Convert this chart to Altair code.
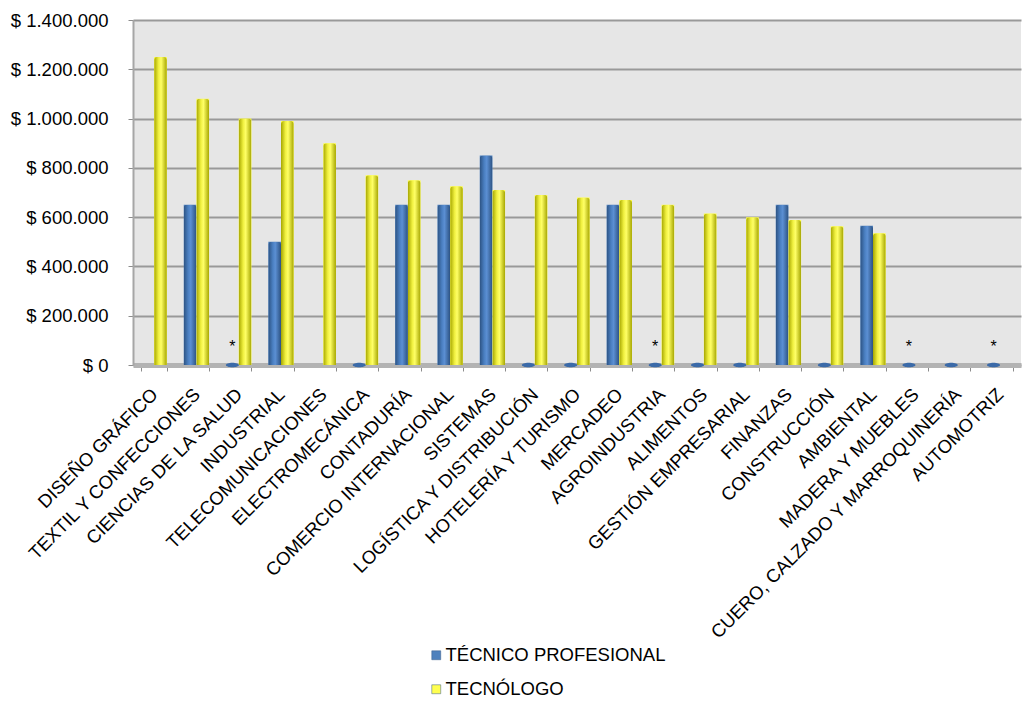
import altair as alt
import pandas as pd

# Carreras (categorías del eje X)
categorias = [
    "DISEÑO GRÁFICO", "TEXTIL Y CONFECCIONES", "CIENCIAS DE LA SALUD", "INDUSTRIAL",
    "TELECOMUNICACIONES", "ELECTROMECÁNICA", "CONTADURÍA", "COMERCIO INTERNACIONAL",
    "SISTEMAS", "LOGÍSTICA Y DISTRIBUCIÓN", "HOTELERÍA Y TURISMO", "MERCADEO",
    "AGROINDUSTRIA", "ALIMENTOS", "GESTIÓN EMPRESARIAL", "FINANZAS", "CONSTRUCCIÓN",
    "AMBIENTAL", "MADERA Y MUEBLES", "CUERO, CALZADO Y MARROQUINERÍA", "AUTOMOTRIZ",
]

# Salario promedio por nivel de formación (None = sin dato)
tecnico_profesional = [
    None, 650000, 0, 500000, None, 0, 650000, 650000, 850000, 0, 0,
    650000, 0, 0, 0, 650000, 0, 565000, 0, 0, 0,
]
tecnologo = [
    1250000, 1080000, 1000000, 990000, 900000, 770000, 750000, 725000, 710000,
    690000, 680000, 670000, 650000, 615000, 600000, 588000, 563000, 535000,
    None, None, None,
]

# Carreras marcadas con asterisco
con_nota = ["CIENCIAS DE LA SALUD", "AGROINDUSTRIA", "MADERA Y MUEBLES", "AUTOMOTRIZ"]

# Marcas del eje Y
ticks_y = [0, 200000, 400000, 600000, 800000, 1000000, 1200000, 1400000]

series = ["TÉCNICO PROFESIONAL", "TECNÓLOGO"]
colores = ["#4f81bd", "#ffff4f"]

filas = []
for i, cat in enumerate(categorias):
    for serie, valores in zip(series, [tecnico_profesional, tecnologo]):
        v = valores[i]
        if v is None:
            continue
        filas.append({"categoria": cat, "serie": serie, "valor": v,
                      "nota": "*" if (cat in con_nota and serie == series[0]) else ""})
df = pd.DataFrame(filas)

FUENTE = "Liberation Sans"

x_enc = alt.X(
    "categoria:N", sort=categorias, title=None,
    scale=alt.Scale(paddingInner=0.4, paddingOuter=0.2),
    axis=alt.Axis(labelAngle=-45, labelAlign="right", labelBaseline="middle",
                  labelFontSize=18.5, labelFont=FUENTE, labelColor="#000000",
                  labelPadding=20, labelLimit=0, tickBand="extent", tickSize=6,
                  tickColor="#8c8c8c", domainColor="#b3b3b3", domainWidth=5,
                  grid=False, labelOverlap=False),
)
xoff = alt.XOffset("serie:N", sort=series, scale=alt.Scale(domain=series))
y_enc = alt.Y(
    "valor:Q", title=None,
    scale=alt.Scale(domain=[0, 1400000], nice=False),
    axis=alt.Axis(values=ticks_y,
                  labelExpr="'$ ' + replace(format(datum.value, ',.0f'), regexp(',', 'g'), '.')",
                  labelFontSize=18.5, labelFont=FUENTE, labelColor="#000000",
                  labelPadding=20, tickSize=5, tickColor="#8c8c8c",
                  domainColor="#a6a6a6", domainWidth=2,
                  gridColor="#999999", gridWidth=2),
)

base = alt.Chart(df)

barras = base.transform_filter("datum.valor > 0").mark_bar().encode(
    x=x_enc, xOffset=xoff, y=y_enc,
    color=alt.Color("serie:N", sort=series,
                    scale=alt.Scale(domain=series, range=colores),
                    legend=alt.Legend(
                        title=None, orient="none", legendX=294, legendY=626,
                        direction="vertical", symbolType="square", symbolSize=80,
                        labelFontSize=18.5, labelFont=FUENTE, labelColor="#000000",
                        labelLimit=0, rowPadding=15, labelOffset=0,
                        symbolStrokeColor="#385d8a", symbolStrokeWidth=0.5)),
)


def degradado(c_borde, c_medio, c_luz):
    return alt.LinearGradient(
        gradient="linear", x1=0, x2=1, y1=0, y2=0,
        stops=[alt.GradientStop(offset=0, color=c_borde),
               alt.GradientStop(offset=0.35, color=c_medio),
               alt.GradientStop(offset=0.55, color=c_luz),
               alt.GradientStop(offset=1, color=c_borde)],
    )


cil_azul = base.transform_filter(
    f"datum.valor > 0 && datum.serie == '{series[0]}'"
).mark_bar(color=degradado("#2c5282", "#4a7fc1", "#5b8fd3"),
           cornerRadiusTopLeft=3, cornerRadiusTopRight=3).encode(
    x=alt.X("categoria:N", sort=categorias), xOffset=xoff, y="valor:Q")

cil_amarillo = base.transform_filter(
    f"datum.valor > 0 && datum.serie == '{series[1]}'"
).mark_bar(color=degradado("#a6a600", "#f0f040", "#ffff66"),
           cornerRadiusTopLeft=3, cornerRadiusTopRight=3).encode(
    x=alt.X("categoria:N", sort=categorias), xOffset=xoff, y="valor:Q")

# Valores en cero: base plana del cilindro
ceros = base.transform_filter("datum.valor == 0").mark_point(
    shape="M-1,0A1,0.35,0,1,0,1,0A1,0.35,0,1,0,-1,0Z",
    filled=True, size=170, color="#3b6aa8", opacity=1,
).encode(x=alt.X("categoria:N", sort=categorias), xOffset=xoff, y="valor:Q")

notas = base.transform_filter("datum.nota != ''").mark_text(
    fontSize=16, font=FUENTE, color="#000000", dy=-18, baseline="middle",
).encode(x=alt.X("categoria:N", sort=categorias), xOffset=xoff, y="valor:Q",
         text="nota:N")

chart = alt.layer(barras, cil_azul, cil_amarillo, ceros, notas).properties(
    width=888, height=345,
    autosize=alt.AutoSizeParams(type="none"),
    padding={"left": 133, "top": 20, "right": 2, "bottom": 336},
    background="#ffffff",
).configure_view(fill="#e6e6e6", stroke=None)

chart.save("out.html", embed_options={"renderer": "svg", "actions": False})
